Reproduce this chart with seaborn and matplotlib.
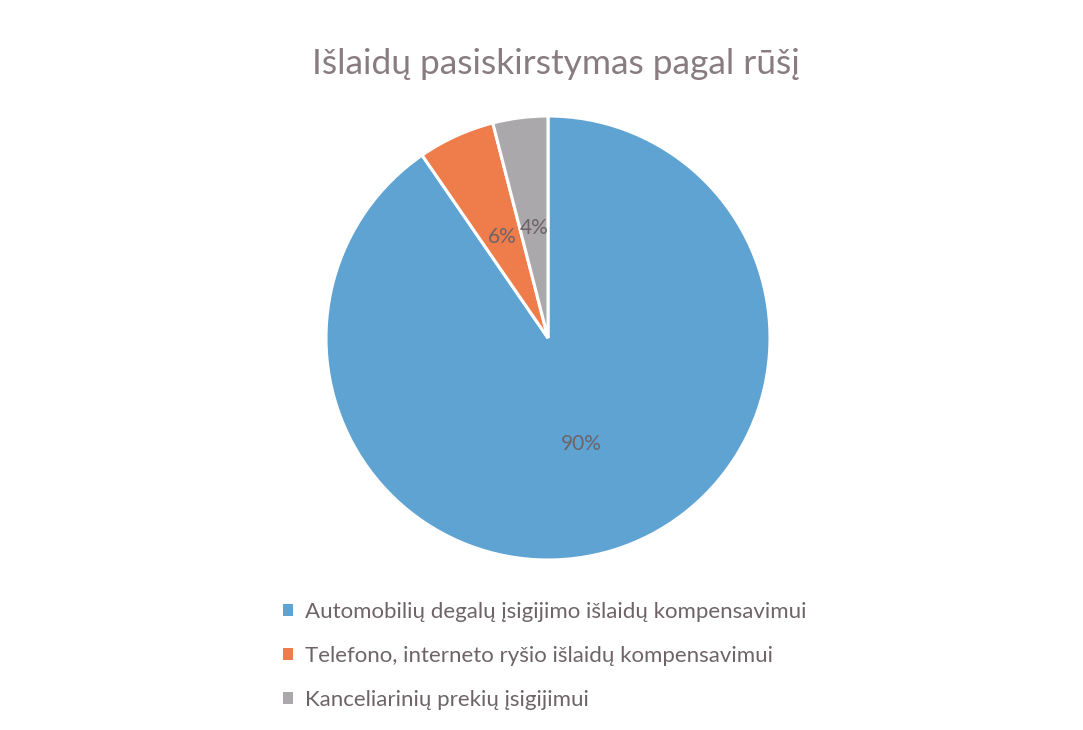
import matplotlib
matplotlib.use("Agg")
import matplotlib.pyplot as plt
import seaborn as sns
from matplotlib.patches import Patch

categories = [
    "Automobilių degalų įsigijimo išlaidų kompensavimui",
    "Telefono, interneto ryšio išlaidų kompensavimui",
    "Kanceliarinių prekių įsigijimui",
]
shares = [90.4, 5.6, 4.0]
colors = ["#5fa3d3", "#ef7d4c", "#aba8ab"]

sns.set_theme(style="white")
plt.rcParams["font.family"] = ["Lato", "DejaVu Sans"]

fig = plt.figure(figsize=(10.83, 7.30), dpi=100)
fig.patch.set_facecolor("white")

ax = fig.add_axes([326 / 1083, 1 - 560 / 730, 444 / 1083, 444 / 730])
wedges, texts, autotexts = ax.pie(
    shares,
    colors=colors,
    startangle=90,
    counterclock=False,
    autopct="%.0f%%",
    pctdistance=0.5,
    wedgeprops=dict(edgecolor="white", linewidth=2.2),
    textprops=dict(color="#6e6468", fontsize=15),
)
ax.set_xlim(-1, 1)
ax.set_ylim(-1, 1)
ax.set_aspect("equal")
ax.axis("off")

fig.text(0.513, 0.913, "Išlaidų pasiskirstymas pagal rūšį", ha="center", va="center",
         fontsize=25.5, color="#887c81")

handles = [Patch(facecolor=c, edgecolor="none") for c in colors]
leg = fig.legend(handles, categories, loc="upper left", bbox_to_anchor=(0.253, 0.188),
                 frameon=False, fontsize=16, labelcolor="#6e6468",
                 handlelength=0.45, handleheight=0.45, handletextpad=0.55,
                 labelspacing=1.08, borderaxespad=0)

fig.savefig("out.png", dpi=100, facecolor="white")
